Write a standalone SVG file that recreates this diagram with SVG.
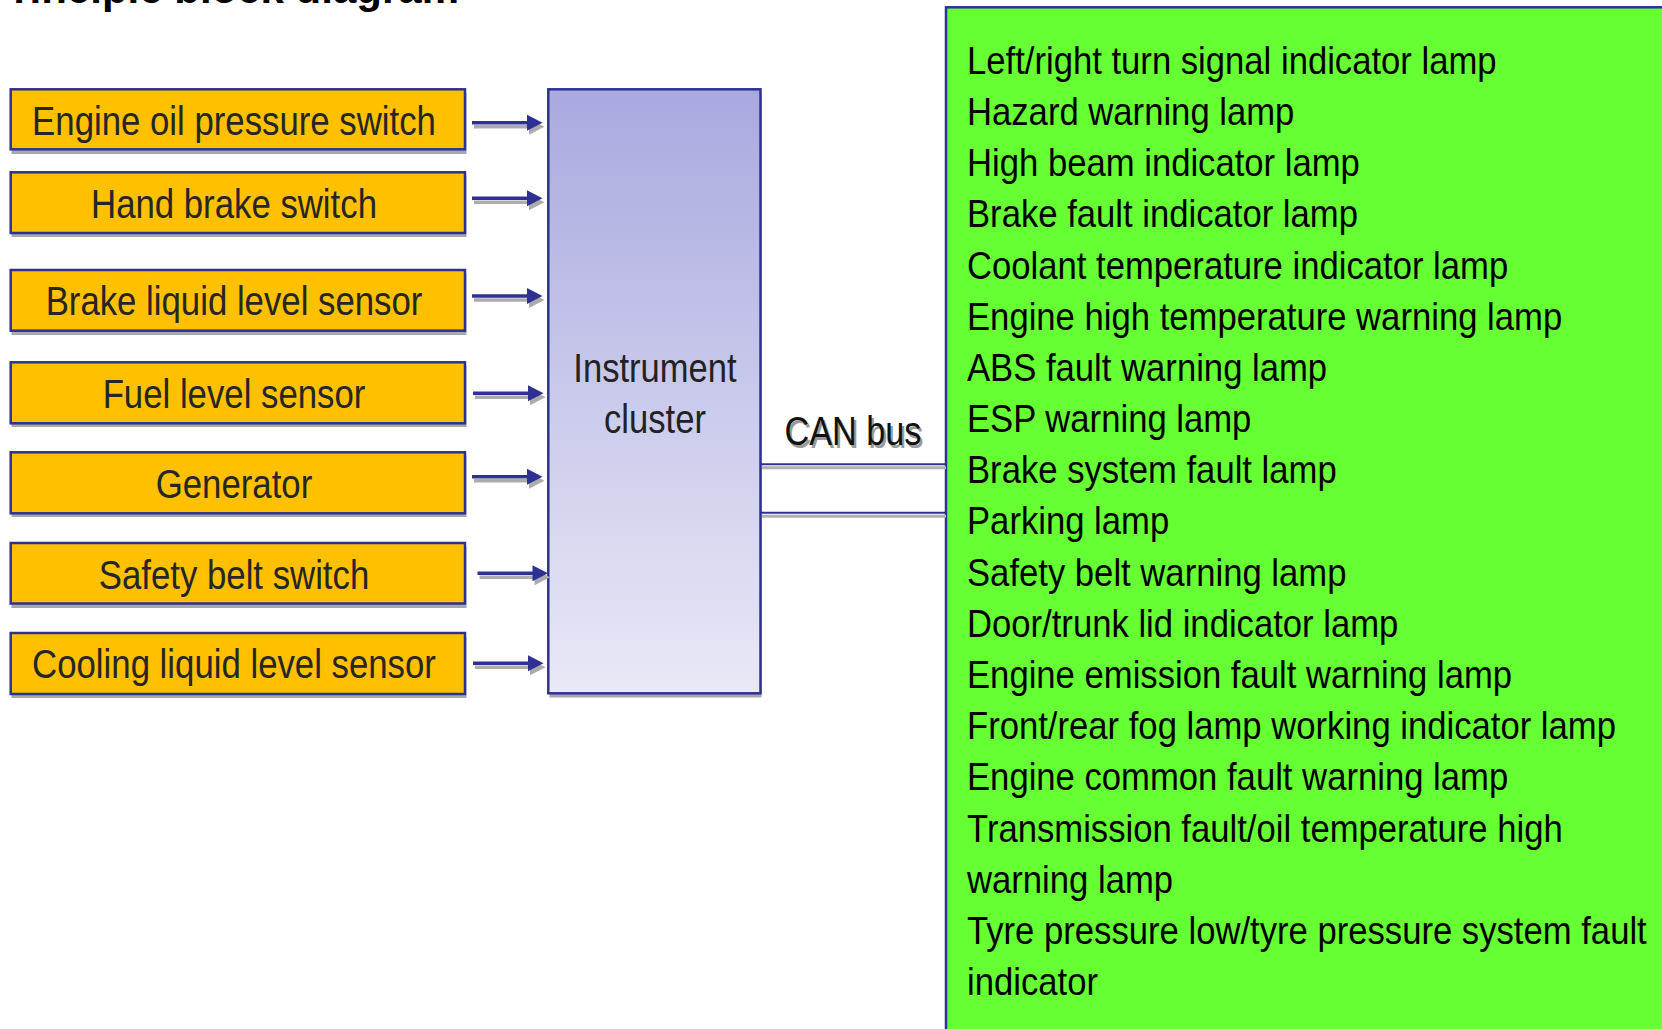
<svg xmlns="http://www.w3.org/2000/svg" xmlns:xlink="http://www.w3.org/1999/xlink" width="1662" height="1029" viewBox="0 0 1662 1029">
<style>
.box{fill:#FFC000;stroke:#2E3192;stroke-width:2.5}
.shd{fill:#a8a8a8}
.lt{font-family:"Liberation Sans",Arial,sans-serif;font-size:41px;fill:#262626;text-anchor:middle}
.gt{font-family:"Liberation Sans",Arial,sans-serif;font-size:39px;fill:#000}
.ct{font-family:"Liberation Sans",Arial,sans-serif;font-size:40px;fill:#222;text-anchor:middle}
.can{font-family:"Liberation Sans",Arial,sans-serif;font-size:41px;text-anchor:middle}
.title{font-family:"Liberation Sans",Arial,sans-serif;font-size:42px;font-weight:bold;fill:#000;text-anchor:end}
.bus{stroke:#2E3192;stroke-width:2;fill:none}
.bshd{stroke:#b0b0b0;stroke-width:3;fill:none}
</style>
<defs>
<linearGradient id="cg" x1="0" y1="0" x2="0" y2="1">
<stop offset="0" stop-color="#A9A9E0"/>
<stop offset="1" stop-color="#E9E9F7"/>
</linearGradient>
<path id="arr" d="M0,-1.7 H55 V-8 L70.5,0 L55,8 V1.7 H0 Z"/>
</defs>
<rect width="1662" height="1029" fill="#ffffff"/>
<text class="title" x="459" y="3">Principle block diagram</text>

<g id="can-bus-module">
<rect x="946" y="7.3" width="760" height="1100" fill="#66FF33" stroke="#2E3192" stroke-width="2.5"/>
<g transform="translate(967,0) scale(0.889,1)">
<text class="gt" x="0" y="74">Left/right turn signal indicator lamp</text>
<text class="gt" x="0" y="125.2">Hazard warning lamp</text>
<text class="gt" x="0" y="176.3">High beam indicator lamp</text>
<text class="gt" x="0" y="227.5">Brake fault indicator lamp</text>
<text class="gt" x="0" y="278.7">Coolant temperature indicator lamp</text>
<text class="gt" x="0" y="329.9">Engine high temperature warning lamp</text>
<text class="gt" x="0" y="381">ABS fault warning lamp</text>
<text class="gt" x="0" y="432.2">ESP warning lamp</text>
<text class="gt" x="0" y="483.4">Brake system fault lamp</text>
<text class="gt" x="0" y="534.5">Parking lamp</text>
<text class="gt" x="0" y="585.7">Safety belt warning lamp</text>
<text class="gt" x="0" y="636.9">Door/trunk lid indicator lamp</text>
<text class="gt" x="0" y="688">Engine emission fault warning lamp</text>
<text class="gt" x="0" y="739.2">Front/rear fog lamp working indicator lamp</text>
<text class="gt" x="0" y="790.4">Engine common fault warning lamp</text>
<text class="gt" x="0" y="841.6">Transmission fault/oil temperature high</text>
<text class="gt" x="0" y="892.7">warning lamp</text>
<text class="gt" x="0" y="943.9">Tyre pressure low/tyre pressure system fault</text>
<text class="gt" x="0" y="995">indicator</text>
</g>
</g>

<g id="instrument-cluster">
<rect class="shd" x="549.5" y="93.5" width="212" height="604"/>
<rect x="548.3" y="89.3" width="212.2" height="604" fill="url(#cg)" stroke="#2E3192" stroke-width="2.5"/>
<g transform="translate(655,0) scale(0.865,1)">
<text class="ct" x="0" y="381.7">Instrument</text>
<text class="ct" x="0" y="432.7">cluster</text>
</g>
</g>

<g id="engine-oil-pressure-switch">
<rect class="shd" x="11.5" y="93" width="455" height="61"/>
<rect class="box" x="10.7" y="89.3" width="454.3" height="60"/>
<text class="lt" transform="translate(234,135) scale(0.848,1)">Engine oil pressure switch</text>
</g>
<g id="hand-brake-switch">
<rect class="shd" x="11.5" y="176" width="455" height="61"/>
<rect class="box" x="10.7" y="172.3" width="454.3" height="60.7"/>
<text class="lt" transform="translate(234,218.3) scale(0.848,1)">Hand brake switch</text>
</g>
<g id="brake-liquid-level-sensor">
<rect class="shd" x="11.5" y="274" width="455" height="61"/>
<rect class="box" x="10.7" y="270" width="454.3" height="60.7"/>
<text class="lt" transform="translate(234,315) scale(0.848,1)">Brake liquid level sensor</text>
</g>
<g id="fuel-level-sensor">
<rect class="shd" x="11.5" y="366" width="455" height="61"/>
<rect class="box" x="10.7" y="362.3" width="454.3" height="61"/>
<text class="lt" transform="translate(234,408.3) scale(0.848,1)">Fuel level sensor</text>
</g>
<g id="generator">
<rect class="shd" x="11.5" y="456" width="455" height="61"/>
<rect class="box" x="10.7" y="452.3" width="454.3" height="61"/>
<text class="lt" transform="translate(234,498.3) scale(0.848,1)">Generator</text>
</g>
<g id="safety-belt-switch">
<rect class="shd" x="11.5" y="547" width="455" height="61"/>
<rect class="box" x="10.7" y="543" width="454.3" height="60.5"/>
<text class="lt" transform="translate(234,588.5) scale(0.848,1)">Safety belt switch</text>
</g>
<g id="cooling-liquid-level-sensor">
<rect class="shd" x="11.5" y="637" width="455" height="61"/>
<rect class="box" x="10.7" y="633" width="454.3" height="61"/>
<text class="lt" transform="translate(234,677.5) scale(0.848,1)">Cooling liquid level sensor</text>
</g>

<g id="connectors">
<g fill="#acacac">
<use xlink:href="#arr" x="474" y="126.7"/>
<use xlink:href="#arr" x="474" y="202.3"/>
<use xlink:href="#arr" x="474" y="300"/>
<use xlink:href="#arr" x="475" y="397.3"/>
<use xlink:href="#arr" x="474" y="480.7"/>
<use xlink:href="#arr" x="479.5" y="577.3"/>
<use xlink:href="#arr" x="475" y="667.3"/>
</g>
<g fill="#2E3192">
<use xlink:href="#arr" x="472" y="122.7"/>
<use xlink:href="#arr" x="472" y="198.3"/>
<use xlink:href="#arr" x="472" y="296"/>
<use xlink:href="#arr" x="473" y="393.3"/>
<use xlink:href="#arr" x="472" y="476.7"/>
<use xlink:href="#arr" x="477.5" y="573.3"/>
<use xlink:href="#arr" x="473" y="663.3"/>
</g>
<line class="bshd" x1="762" y1="467.8" x2="946" y2="467.8"/>
<line class="bshd" x1="762" y1="516.2" x2="946" y2="516.2"/>
<line class="bus" x1="760.5" y1="464.3" x2="946" y2="464.3"/>
<line class="bus" x1="760.5" y1="512.7" x2="946" y2="512.7"/>
<g transform="translate(853,445) scale(0.835,1)">
<text class="can" x="2.5" y="2.5" fill="#9a9a9a">CAN bus</text>
<text class="can" x="0" y="0" fill="#111">CAN bus</text>
</g>
</g>
</svg>
